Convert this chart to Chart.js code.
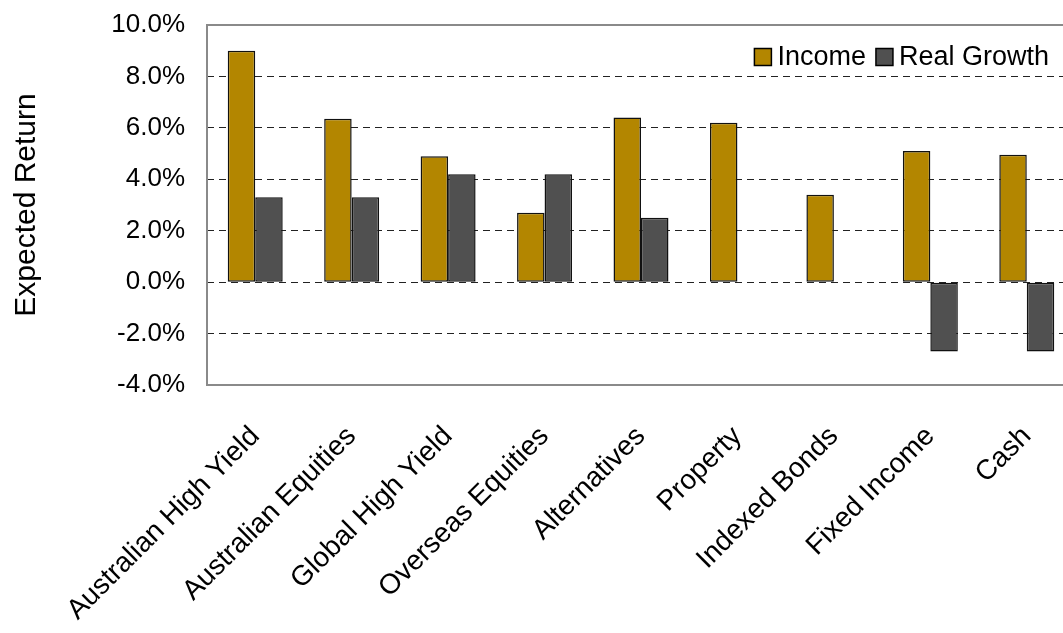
<!DOCTYPE html>
<html>
<head>
<meta charset="utf-8">
<script src="https://cdn.jsdelivr.net/npm/chart.js@4/dist/chart.umd.min.js"></script>
<style>
  html, body { margin: 0; padding: 0; background: #fff; overflow: hidden; }
  #wrap { position: relative; width: 1078px; height: 633px; }
</style>
</head>
<body>
<div id="wrap"><canvas id="returnsChart"></canvas></div>
<script>
// Data
const categories = ['Australian High Yield', 'Australian Equities', 'Global High Yield', 'Overseas Equities',
    'Alternatives', 'Property', 'Indexed Bonds', 'Fixed Income', 'Cash'];
const incomeValues = [9.0, 6.35, 4.9, 2.7, 6.4, 6.2, 3.4, 5.1, 4.95];
const realGrowthValues = [3.3, 3.3, 4.2, 4.2, 2.5, null, null, -2.7, -2.7];
const yMin = -4, yMax = 10, yStep = 2;

const FONT = "'Liberation Sans', Arial, sans-serif";
Chart.defaults.font.family = FONT;
Chart.defaults.color = '#000';

// grey frame round the plot area
const plotBorder = {
    id: 'plotBorder',
    afterDatasetsDraw(chart) {
        const { ctx, chartArea: a } = chart;
        ctx.save();
        ctx.strokeStyle = '#8a8a8a';
        ctx.lineWidth = 2;
        ctx.strokeRect(a.left, a.top, a.right - a.left, a.bottom - a.top);
        ctx.restore();
    }
};

// legend drawn inside the plot, top right
const insideLegend = {
    id: 'insideLegend',
    afterDraw(chart) {
        const { ctx } = chart;
        const sets = chart.data.datasets;
        ctx.save();
        ctx.font = '27px ' + FONT;
        ctx.textBaseline = 'middle';
        const box = 17, gap = 6, itemGap = 10;
        let total = 0;
        sets.forEach((d, i) => {
            total += box + gap + ctx.measureText(d.label).width + (i < sets.length - 1 ? itemGap : 0);
        });
        let x = 1049 - total;
        const y = 57;
        sets.forEach(d => {
            ctx.fillStyle = d.backgroundColor;
            ctx.fillRect(x, y - box / 2, box, box);
            ctx.strokeStyle = '#000';
            ctx.lineWidth = 1.5;
            ctx.strokeRect(x, y - box / 2, box, box);
            x += box + gap;
            ctx.fillStyle = '#000';
            ctx.fillText(d.label, x, y + 1);
            x += ctx.measureText(d.label).width + itemGap;
        });
        ctx.restore();
    }
};

new Chart(document.getElementById('returnsChart'), {
    type: 'bar',
    data: {
        labels: categories,
        datasets: [
            {
                label: 'Income',
                data: incomeValues,
                backgroundColor: '#b38600',
                borderColor: '#111',
                borderWidth: 1.5,
                borderSkipped: false
            },
            {
                label: 'Real Growth',
                data: realGrowthValues,
                backgroundColor: '#505050',
                borderColor: '#111',
                borderWidth: 1.5,
                borderSkipped: false
            }
        ]
    },
    options: {
        responsive: true,
        maintainAspectRatio: false,
        animation: false,
        categoryPercentage: 0.57,
        barPercentage: 1.0,
        layout: { padding: { top: 25, right: 3, left: 0, bottom: 0 } },
        plugins: {
            legend: { display: false },
            tooltip: { enabled: false }
        },
        scales: {
            y: {
                min: yMin,
                max: yMax,
                afterFit: (s) => { s.width = 207; s.paddingTop = 0; s.paddingBottom = 0; },
                ticks: {
                    stepSize: yStep,
                    padding: 22,
                    font: { size: 26 },
                    color: '#000',
                    callback: (v) => v.toFixed(1) + '%'
                },
                grid: {
                    drawTicks: false,
                    lineWidth: 1,
                    color: (c) => (c.tick && (c.tick.value === yMax || c.tick.value === yMin)) ? 'rgba(0,0,0,0)' : '#222'
                },
                border: { display: false, dash: [7, 5] },
                title: {
                    display: true,
                    text: 'Expected Return',
                    font: { size: 30 },
                    color: '#000',
                    padding: { top: 9, bottom: 0 }
                }
            },
            x: {
                afterFit: (s) => { s.height = 248; s.paddingTop = 0; s.paddingLeft = 0; s.paddingRight = 0; },
                grid: { display: false },
                border: { display: false },
                ticks: {
                    minRotation: 45,
                    maxRotation: 45,
                    padding: 27,
                    autoSkip: false,
                    font: { size: 28 },
                    color: '#000'
                }
            }
        }
    },
    plugins: [plotBorder, insideLegend]
});
</script>
</body>
</html>
